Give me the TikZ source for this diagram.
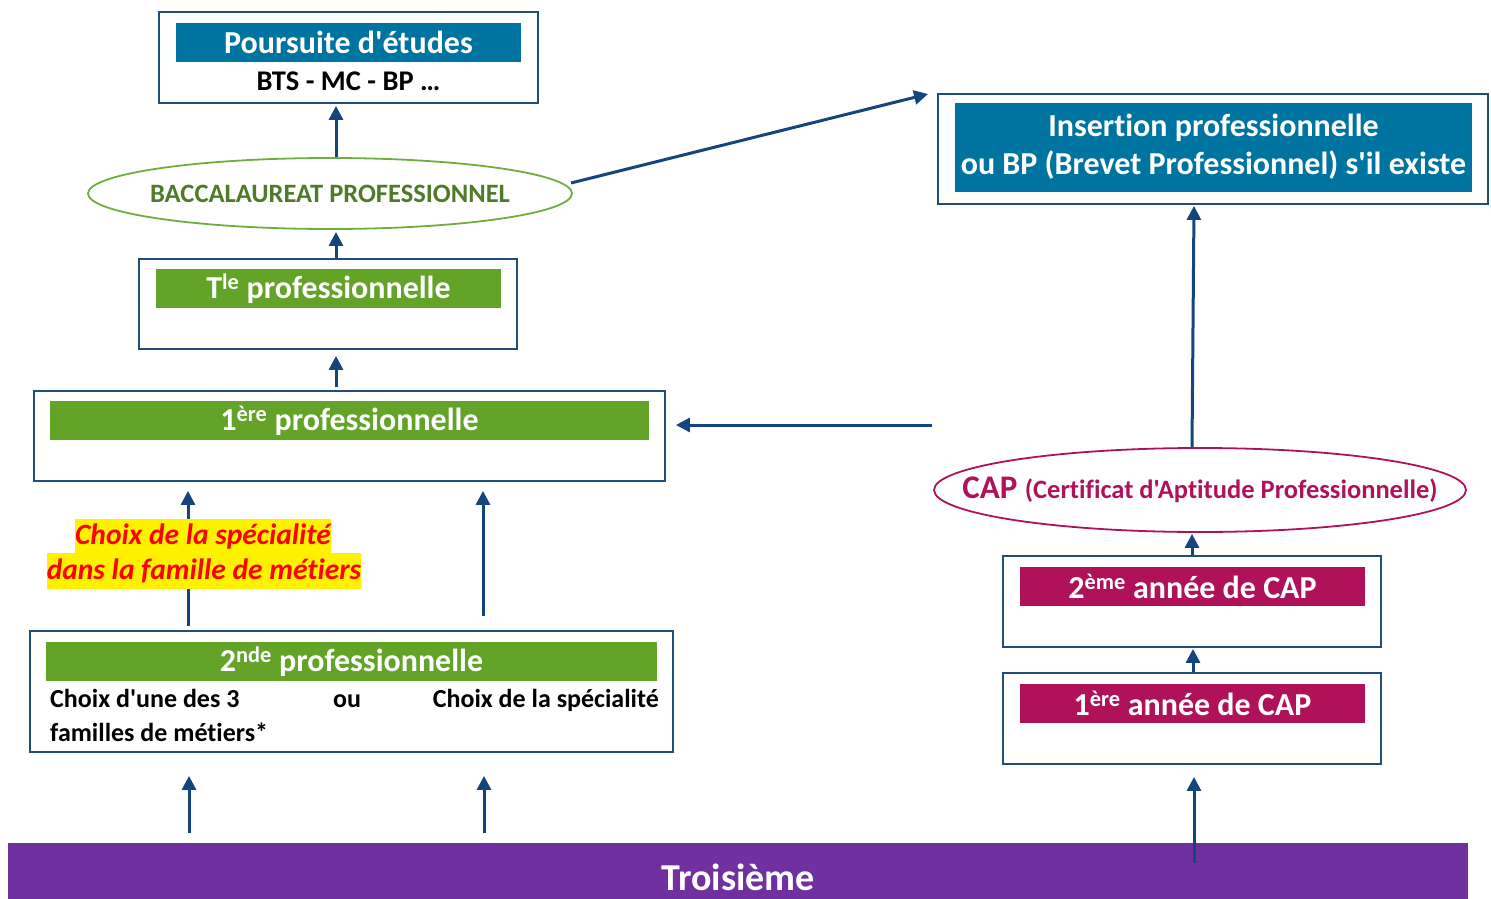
\documentclass[tikz,border=0pt]{standalone}
\usepackage{fontspec}
\setmainfont{Carlito}[Ligatures={TeXOff,NoCommon}]
\usetikzlibrary{arrows.meta,shapes.geometric,calc}
\definecolor{teal1}{RGB}{0,116,160}
\definecolor{grn}{RGB}{98,163,40}
\definecolor{dgrn}{RGB}{79,122,40}
\definecolor{lgrn}{RGB}{112,173,60}
\definecolor{mag}{RGB}{176,18,90}
\definecolor{purp}{RGB}{112,48,160}
\definecolor{navy}{RGB}{31,78,121}
\definecolor{arrc}{RGB}{20,70,125}
\tikzset{
  frame/.style={draw=navy,line width=1.8pt,fill=white,inner sep=0pt},
  banner/.style={inner sep=0pt,text=white,font=\fontsize{32}{34}\selectfont\bfseries},
  arr/.style={draw=arrc,line width=3pt,-{Triangle[width=14pt,length=14pt]}},
  small/.style={inner sep=0pt,font=\fontsize{26}{28}\selectfont\bfseries},
  hl/.style={fill=yellow,inner sep=0pt,text=red,font=\fontsize{29.5}{31}\selectfont\bfseries\itshape}
}
\begin{document}
\begin{tikzpicture}[x=1pt,y=-1pt]
\useasboundingbox (0,0) rectangle (1491,899);
% Troisieme
\fill[purp] (8,843) rectangle (1468,899);
\node[text=white,font=\fontsize{38}{40}\selectfont\bfseries,inner sep=0pt] (trois) at (738,877) {Troisième};
% Poursuite
\node[frame,minimum width=379pt,minimum height=91pt] (pours) at (348.5,57.5) {};
\node[banner,fill=teal1,minimum width=345pt,minimum height=39pt] (poursb) at (348.5,42.5) {Poursuite d'études};
\node[small,font=\fontsize{28.5}{30}\selectfont\bfseries] (bts) at (348.5,81) {BTS - MC - BP …};
% Bac ellipse
\node[ellipse,draw=lgrn,line width=1.8pt,fill=white,minimum width=484pt,minimum height=71pt,inner sep=0pt,text=dgrn,font=\fontsize{26.5}{28}\selectfont\bfseries] (bac) at (330,193.5) {\makebox[0pt]{BACCALAUREAT PROFESSIONNEL}};
% Tle
\node[frame,minimum width=378pt,minimum height=90pt] (tle) at (328,304) {};
\node[banner,fill=grn,minimum width=345pt,minimum height=39pt] (tleb) at (328.5,288.5) {T\textsuperscript{le} professionnelle};
% 1ere
\node[frame,minimum width=631pt,minimum height=90pt] (prem) at (349.5,436) {};
\node[banner,fill=grn,minimum width=599pt,minimum height=39pt] (premb) at (349.5,420.5) {1\textsuperscript{ère} professionnelle};
% 2nde
\node[frame,minimum width=643pt,minimum height=121pt] (sec) at (351.5,691.5) {};
\node[banner,fill=grn,minimum width=611pt,minimum height=39pt] (secb) at (351.5,661.5) {2\textsuperscript{nde} professionnelle};
\node[small,anchor=base west] (c1) at (50,707) {Choix d'une des 3};
\node[small,anchor=base west] (ou) at (333,707) {ou};
\node[small,anchor=base east] (c2) at (659,707) {Choix de la spécialité};
\node[small,anchor=base west] (c3) at (50,741) {familles de métiers*};
% Insertion
\node[frame,minimum width=550pt,minimum height=110pt] (ins) at (1213,149) {};
\node[banner,fill=teal1,minimum width=517pt,minimum height=89pt,align=center,font=\fontsize{32}{38}\selectfont\bfseries] (insb) at (1213.5,147) {Insertion professionnelle\\ou BP (Brevet Professionnel) s'il existe};
% CAP ellipse
\node[ellipse,draw=mag,line width=1.8pt,fill=white,minimum width=532pt,minimum height=84pt,inner sep=0pt,text=mag] (cap) at (1200,490) {\makebox[0pt]{\fontsize{33}{35}\selectfont\bfseries CAP \fontsize{26.5}{28}\selectfont(Certificat d'Aptitude Professionnelle)}};
% CAP years
\node[frame,minimum width=378pt,minimum height=91pt] (cap2) at (1192,601.5) {};
\node[banner,fill=mag,minimum width=345pt,minimum height=39pt] (cap2b) at (1192.5,586.5) {2\textsuperscript{ème} année de CAP};
\node[frame,minimum width=378pt,minimum height=91pt] (cap1) at (1192,718.5) {};
\node[banner,fill=mag,minimum width=345pt,minimum height=39pt] (cap1b) at (1192.5,703.5) {1\textsuperscript{ère} année de CAP};
% coordinates
\coordinate (xa) at (336,0);
\coordinate (xl) at (188,0);
\coordinate (xr) at (483,0);
\coordinate (hstart) at (932,425);
\coordinate (bacr) at (571,183);
\coordinate (insl) at (928,94);
% arrows
\draw[arr] (bac.north -| xa) -- ($(pours.south -| xa)+(0,2)$);
\draw[arr] (tle.north -| xa) -- ($(bac.south -| xa)+(0,2)$);
\draw[arr] ($(prem.north -| xa)+(0,-3)$) -- ($(tle.south -| xa)+(0,6)$);
\draw[arr] (hstart) -- ($(prem.east |- hstart)+(10,0)$);
\draw[arr] (bacr) -- (insl);
\draw[arr] (cap.north) ++(-8,0) -- ($(ins.south)+(-19,1)$);
\draw[arr] (cap2.north) -- ($(cap.south -| cap2)+(0,1)$);
\draw[arr] (cap1.north) ++(1,0) -- ($(cap2.south)+(1,1)$);
\draw[arr] (1194,863) coordinate (t3) -- ($(cap1.south -| t3)+(0,12)$);
\draw[arr] (189,833) coordinate (t1) -- ($(sec.south -| t1)+(0,23)$);
\draw[arr] (484,833) coordinate (t2) -- ($(sec.south -| t2)+(0,23)$);
\draw[arr] ($(sec.north -| xl)+(0,-4)$) -- ($(prem.south -| xl)+(0,9)$);
\draw[arr] ($(sec.north -| xr)+(0,-14)$) -- ($(prem.south -| xr)+(0,9)$);
% label
\node[hl,minimum width=256pt,minimum height=34pt] (lab1) at (203,536) {Choix de la spécialité};
\node[hl,minimum width=314pt,minimum height=36pt] (lab2) at (204,571) {dans la famille de métiers};
\end{tikzpicture}
\end{document}
